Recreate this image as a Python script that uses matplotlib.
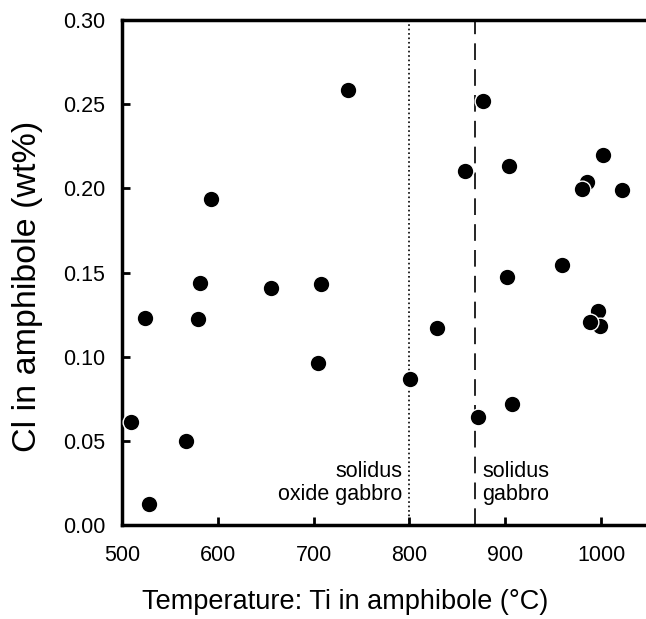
import numpy as np
import matplotlib
matplotlib.use("Agg")
import matplotlib.pyplot as plt

plt.rcParams['font.family'] = ['Liberation Sans', 'DejaVu Sans']

# Ti-in-amphibole temperature (°C) and Cl content (wt%)
temp = [736, 593, 581, 655, 708, 524, 579, 705, 509, 567, 528,
        877, 858, 904, 1002, 985, 980, 1022, 959, 902,
        829, 801, 872, 907, 997, 999, 988]
cl = [0.2585, 0.1937, 0.1440, 0.1411, 0.1433, 0.1233, 0.1225, 0.0962, 0.0615, 0.0500, 0.0125,
      0.2521, 0.2105, 0.2133, 0.2197, 0.2040, 0.1997, 0.1991, 0.1547, 0.1476,
      0.1170, 0.0869, 0.0643, 0.0720, 0.1272, 0.1183, 0.1207]

solidus_oxide_gabbro = 800
solidus_gabbro = 868

xticks = [500, 600, 700, 800, 900, 1000]
yticks = [0.00, 0.05, 0.10, 0.15, 0.20, 0.25, 0.30]

fig = plt.figure(figsize=(6.46, 6.19), dpi=100)
ax = fig.add_axes([0.1889, 0.1514, 0.8157, 0.8163])

ax.axvline(solidus_oxide_gabbro, color='black', lw=1.2, linestyle=':', zorder=1)
ax.axvline(solidus_gabbro, color='black', lw=1.2, linestyle=(0, (10, 5.5)), zorder=1)

ax.scatter(temp, cl, s=145, c='black', edgecolors='white', linewidths=1.0, zorder=3,
           clip_on=False)

ax.set_xlim(500, 1050)
ax.set_ylim(0, 0.30)
ax.set_xticks(xticks)
ax.set_yticks(yticks)
ax.set_xticklabels([str(t) for t in xticks])
ax.set_yticklabels([f"{t:.2f}" for t in yticks])

for side in ['left', 'bottom', 'top', 'right']:
    ax.spines[side].set_linewidth(2.5)
ax.tick_params(direction='in', length=6, width=2, labelsize=15.5, pad=12)
ax.tick_params(axis='x', pad=14)

ax.text(793, 0.012, "solidus\noxide gabbro", ha='right', va='bottom', fontsize=15.5,
        linespacing=1.15)
ax.text(876, 0.012, "solidus\ngabbro", ha='left', va='bottom', fontsize=15.5,
        linespacing=1.15)

ax.set_xlabel("Temperature: Ti in amphibole (°C)", fontsize=19.5)
ax.set_ylabel("Cl in amphibole (wt%)", fontsize=24.5)
ax.xaxis.set_label_coords(0.424, -0.127)
ax.yaxis.set_label_coords(-0.15, 0.4725)

fig.savefig("out.png", dpi=100)
